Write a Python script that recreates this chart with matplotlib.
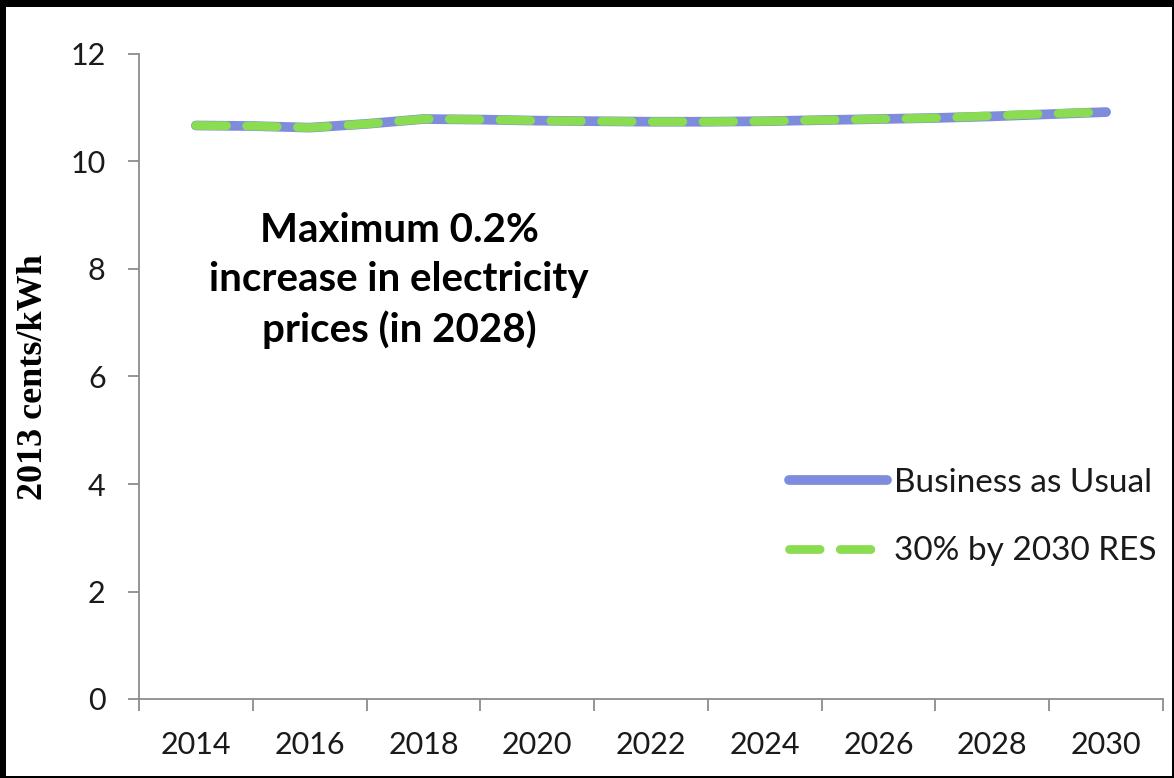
import matplotlib
matplotlib.use('Agg')
import matplotlib.pyplot as plt
from matplotlib.patches import Rectangle

# data (2013 cents/kWh)
years = list(range(2014, 2031))
bau = [10.67, 10.66, 10.63, 10.70, 10.79, 10.78, 10.76, 10.75, 10.74,
       10.74, 10.75, 10.77, 10.79, 10.81, 10.84, 10.88, 10.92]
res30 = [10.67, 10.66, 10.63, 10.70, 10.79, 10.78, 10.76, 10.75, 10.74,
         10.74, 10.75, 10.77, 10.79, 10.81, 10.85, 10.89, 10.92]
label_years = list(range(2014, 2031, 2))
boundary_years = list(range(2013, 2032, 2))
y_ticks = [0, 2, 4, 6, 8, 10, 12]

BLUE = '#7f8cdc'
GREEN = '#8adc50'
AXIS_GRAY = '#8c8c8c'
TEXT = '#1a1a1a'

W, H = 1174, 778
fig = plt.figure(figsize=(W / 100, H / 100), dpi=100, facecolor='black')
# white chart area inside the black frame
fig.patches.append(Rectangle((6 / W, 2 / H), 1 - 8 / W, 1 - 9 / H,
                             transform=fig.transFigure, facecolor='white',
                             edgecolor='none', zorder=-10))

ax = fig.add_axes([139 / W, 79 / H, 1024 / W, 645 / H])
ax.set_facecolor('white')

ax.plot(years, bau, color=BLUE, lw=7, solid_capstyle='round',
        label='Business as Usual', zorder=3)
ax.plot(years, res30, color=GREEN, lw=6.3, dashes=(3.5, 2.3),
        dash_capstyle='round', label='30% by 2030 RES', zorder=4)

ax.set_xlim(2013, 2031)
ax.set_ylim(0, 12)

for side in ['top', 'right']:
    ax.spines[side].set_visible(False)
for side in ['left', 'bottom']:
    ax.spines[side].set_color(AXIS_GRAY)
    ax.spines[side].set_linewidth(1.3)

ax.set_yticks(y_ticks)
ax.set_yticklabels([str(v) for v in y_ticks])
ax.tick_params(axis='y', length=8, width=1.3, color=AXIS_GRAY, pad=16,
               labelsize=22, labelcolor=TEXT)

# tick marks between the labelled years, labels in the middle
ax.set_xticks(boundary_years)
ax.set_xticklabels([''] * len(boundary_years))
ax.set_xticks(label_years, minor=True)
ax.set_xticklabels([str(y) for y in label_years], minor=True)
ax.tick_params(axis='x', which='major', length=8.5, width=1.3, color=AXIS_GRAY)
ax.tick_params(axis='x', which='minor', length=0, pad=23, labelsize=22,
               labelcolor=TEXT)

for lbl in ax.get_xticklabels(minor=True) + ax.get_yticklabels():
    lbl.set_family('Lato')

fig.text(34 / W, (79 + 322) / H, '2013 cents/kWh', rotation=90,
         ha='center', va='center', family='Liberation Serif',
         fontweight='bold', fontsize=26, color='black')

ax.text(2017.57, 7.78, 'Maximum 0.2%\nincrease in electricity\nprices (in 2028)',
        ha='center', va='center', fontsize=29, fontweight='bold',
        family='Lato', color='black', linespacing=1.4)

leg = fig.legend(loc='upper left', bbox_to_anchor=(789 / W, 1 - 468 / H),
                 frameon=False, borderpad=0, borderaxespad=0,
                 handlelength=2.95, handletextpad=0.2, labelspacing=1.15,
                 prop={'family': 'Lato', 'size': 24})
for t in leg.get_texts():
    t.set_color(TEXT)

fig.savefig('out.png', dpi=100, facecolor=fig.get_facecolor())
